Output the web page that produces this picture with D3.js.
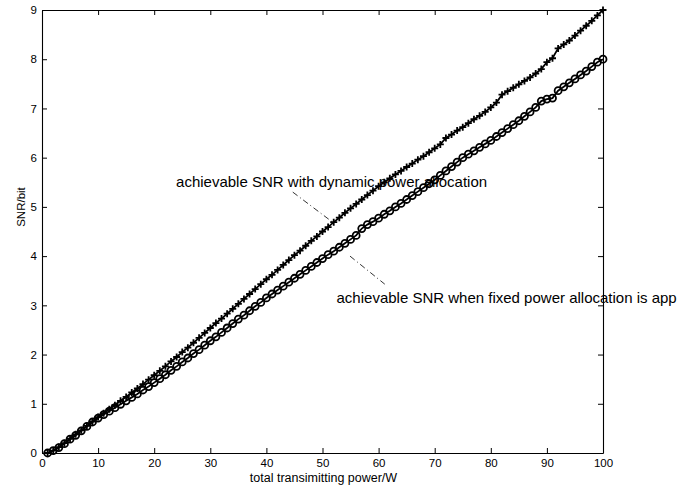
<!DOCTYPE html>
<html>
<head>
<meta charset="utf-8">
<script src="https://cdn.jsdelivr.net/npm/d3@7"></script>
<style>
html,body{margin:0;padding:0;background:#fff;}
svg{display:block;}
text{font-family:"Liberation Sans",Arial,Helvetica,sans-serif;}
</style>
</head>
<body>
<svg id="chart" width="694" height="486"></svg>
<script>
// ---- data ----
const power = d3.range(1, 101); // x: 1..100 W
const snrDynamic = [
0.00,0.05,0.12,0.20,0.29,0.38,0.46,0.55,0.64,0.73,
0.81,0.89,0.97,1.06,1.14,1.23,1.31,1.40,1.49,1.58,
1.67,1.76,1.86,1.95,2.05,2.14,2.24,2.34,2.44,2.54,
2.64,2.73,2.83,2.93,3.03,3.13,3.23,3.33,3.43,3.53,
3.62,3.72,3.82,3.92,4.02,4.11,4.21,4.31,4.40,4.50,
4.59,4.69,4.78,4.88,4.97,5.06,5.15,5.24,5.33,5.42,
5.50,5.58,5.66,5.73,5.81,5.88,5.96,6.03,6.11,6.19,
6.27,6.40,6.47,6.55,6.62,6.70,6.78,6.85,6.93,7.02,
7.12,7.28,7.35,7.42,7.49,7.56,7.63,7.71,7.80,7.94,
8.02,8.22,8.30,8.38,8.48,8.58,8.68,8.78,8.89,9.00];
const snrFixed = [
0.00,0.05,0.11,0.19,0.28,0.36,0.45,0.54,0.63,0.71,
0.78,0.85,0.92,0.99,1.06,1.13,1.20,1.28,1.35,1.43,
1.51,1.59,1.68,1.76,1.85,1.93,2.02,2.10,2.19,2.28,
2.36,2.45,2.54,2.63,2.72,2.80,2.89,2.98,3.06,3.15,
3.23,3.31,3.39,3.47,3.55,3.63,3.71,3.79,3.87,3.95,
4.03,4.10,4.18,4.26,4.34,4.42,4.56,4.64,4.70,4.77,
4.85,4.92,5.00,5.07,5.15,5.23,5.31,5.39,5.47,5.55,
5.64,5.73,5.82,5.91,6.00,6.07,6.14,6.21,6.28,6.35,
6.43,6.51,6.59,6.67,6.75,6.84,6.93,7.02,7.15,7.19,
7.21,7.36,7.44,7.52,7.60,7.68,7.76,7.85,7.94,8.00];
const xTicks = [0,10,20,30,40,50,60,70,80,90,100];
const yTicks = [0,1,2,3,4,5,6,7,8,9];
const xLabel = "total transimitting power/W";
const yLabel = "SNR/bit";
const annotations = [
  {text:"achievable SNR with dynamic power allocation", tx:23.9, ty:5.41, x1:44.7, y1:5.30, x2:51.8, y2:4.69},
  {text:"achievable SNR when fixed power allocation is app", tx:52.5, ty:3.05, x1:54.9, y1:4.00, x2:61.1, y2:3.43}
];

// ---- layout ----
const svg = d3.select("#chart");
const L = 42, R = 603, T = 10, B = 453;
const x = d3.scaleLinear().domain([0,100]).range([L,R]);
const y = d3.scaleLinear().domain([0,9]).range([B,T]);

const fs = 11.5;
function styleAxis(g){
  g.selectAll("path.domain").attr("stroke","#000").attr("stroke-width",1.1);
  g.selectAll(".tick line").attr("stroke","#000").attr("stroke-width",1);
  g.selectAll(".tick text").attr("fill","#000").style("font-size",fs+"px").style("font-family",'"Liberation Sans",Arial,sans-serif');
}
svg.append("g").attr("transform",`translate(0,${B})`)
  .call(d3.axisBottom(x).tickValues(xTicks).tickSize(-5).tickSizeOuter(0).tickPadding(6))
  .call(styleAxis);
svg.append("g").attr("transform",`translate(0,${T})`)
  .call(d3.axisTop(x).tickValues(xTicks).tickSize(-5).tickSizeOuter(0).tickFormat(""))
  .call(styleAxis);
svg.append("g").attr("transform",`translate(${L},0)`)
  .call(d3.axisLeft(y).tickValues(yTicks).tickSize(-5).tickSizeOuter(0).tickPadding(5))
  .call(styleAxis);
svg.append("g").attr("transform",`translate(${R},0)`)
  .call(d3.axisRight(y).tickValues(yTicks).tickSize(-5).tickSizeOuter(0).tickFormat(""))
  .call(styleAxis);

// axis labels
svg.append("text").attr("x",(L+R)/2+1).attr("y",482).attr("text-anchor","middle")
  .style("font-size","12.5px").text(xLabel);
svg.append("text").attr("transform",`translate(25,207) rotate(-90)`).attr("text-anchor","middle")
  .style("font-size","11.5px").text(yLabel);

// lines
const line = d3.line().x((d,i)=>x(power[i])).y(d=>y(d));
svg.append("path").datum(snrDynamic).attr("d",line).attr("fill","none").attr("stroke","#000").attr("stroke-width",1.8);
svg.append("path").datum(snrFixed).attr("d",line).attr("fill","none").attr("stroke","#000").attr("stroke-width",1.8);

// markers
svg.append("g").selectAll("path").data(snrDynamic).join("path")
  .attr("transform",(d,i)=>`translate(${x(power[i])},${y(d)})`)
  .attr("d","M-3.5,0H3.5M0,-3.5V3.5").attr("stroke","#000").attr("stroke-width",1.8).attr("fill","none");
svg.append("g").selectAll("circle").data(snrFixed).join("circle")
  .attr("cx",(d,i)=>x(power[i])).attr("cy",d=>y(d)).attr("r",3.5)
  .attr("fill","none").attr("stroke","#000").attr("stroke-width",1.8);

// annotations
annotations.forEach(a=>{
  svg.append("line").attr("x1",x(a.x1)).attr("y1",y(a.y1)).attr("x2",x(a.x2)).attr("y2",y(a.y2))
    .attr("stroke","#000").attr("stroke-width",0.8).attr("stroke-dasharray","6,3,1,3");
  svg.append("text").attr("x",x(a.tx)).attr("y",y(a.ty)).style("font-size","15px").text(a.text);
});
</script>
</body>
</html>
